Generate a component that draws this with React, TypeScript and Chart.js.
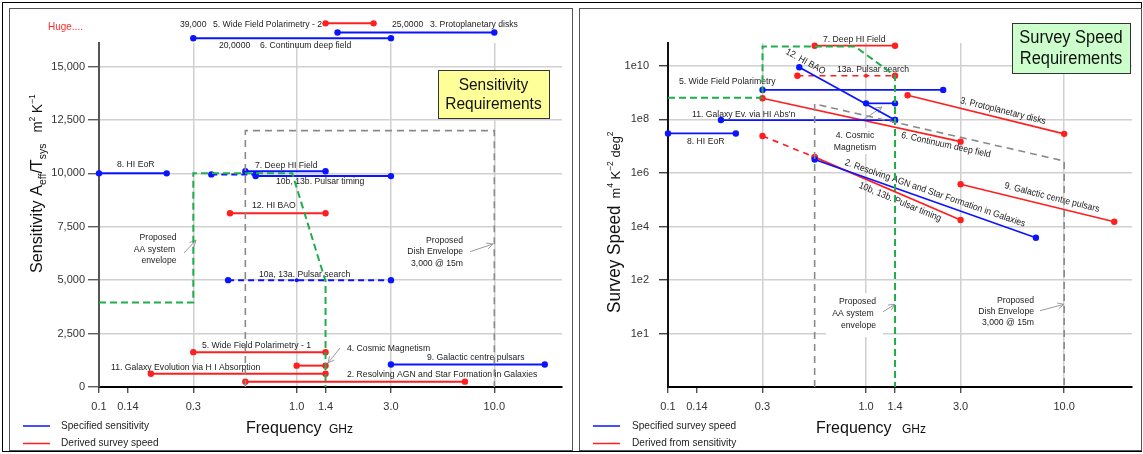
import React, { useEffect, useRef } from "react";
import { Chart, registerables } from "chart.js";

Chart.register(...registerables);

const FONT = '"Liberation Sans", Arial, Helvetica, sans-serif';
const BLUE = "#0a14ff";
const RED = "#ff1f1f";
const GREEN = "#1fae4b";
const GREY = "#8a8a8a";

// ---------- Frequency axis (GHz), shared by both panels ----------
const freqTicks = [0.1, 0.14, 0.3, 1.0, 1.4, 3.0, 10.0];
const freqTickLabels = ["0.1", "0.14", "0.3", "1.0", "1.4", "3.0", "10.0"];
const freqGridTicks = [0.3, 1.0, 3.0, 10.0];
const freqMin = 0.1;
const freqMax = 22;

// ---------- Sensitivity panel: y axis (m^2/K) ----------
const sensTicks = [0, 2500, 5000, 7500, 10000, 12500, 15000];
const sensTickLabels = ["0", "2,500", "5,000", "7,500", "10,000", "12,500", "15,000"];
const sensMin = 0;
const sensMax = 16100;

// Specified sensitivity (blue): [GHz, Aeff/Tsys]
const sensHIEoR = [[0.1, 10000], [0.22, 10000]];
const sensDeepHI = [[0.55, 10100], [1.4, 10100]];
const sensPulsarTiming = [[0.62, 9870], [3.0, 9870]];
const sensPulsarTimingLow = [[0.37, 9950], [0.62, 9950]];
const sensPulsarSearch = [[0.45, 5000], [1.0, 5000], [3.0, 5000]];
const sensGalCentre = [[3.0, 1050], [18, 1050]];
const sensContinuum = [[0.3, 16320], [3.0, 16320]];
const sensProtoplanetary = [[1.61, 16590], [10, 16590]];

// Derived survey speed (red)
const sensWFP2 = [[1.4, 17020], [2.45, 17020]];
const sensHIBAO = [[0.46, 8130], [1.4, 8130]];
const sensWFP1 = [[0.3, 1630], [1.4, 1630]];
const sensCosmicMag = [[1.0, 1000], [1.4, 1000]];
const sensGalaxyEvol = [[0.183, 620], [1.4, 620]];
const sensAGN = [[0.55, 250], [7.1, 250]];

// Envelopes
const sensAAEnvelope = [[0.1, 3960], [0.3, 3960], [0.3, 10000], [0.95, 10000], [1.4, 4950], [1.4, 0]];
const sensDishEnvelope = [[0.55, 0], [0.55, 12000], [10, 12000], [10, 0]];

// ---------- Survey speed panel: y axis (m^4 K^-2 deg^2) ----------
const speedTicks = [1, 1e2, 1e4, 1e6, 1e8, 1e10];
const speedTickLabels = ["1e1", "1e2", "1e4", "1e6", "1e8", "1e10"];
const speedMin = 0.01;
const speedMax = 7.2e10;

// Specified survey speed (blue)
const speedHIEoR = [[0.1, 3.0e7], [0.22, 3.0e7]];
const speedGalaxyEv = [[0.185, 9.5e7], [1.4, 9.5e7]];
const speedWFP = [[0.3, 1.27e9], [2.45, 1.27e9]];
const speedHIBAO = [[0.46, 8.9e9], [1.4, 9.5e7]];
const speedCosmicMag = [[1.0, 4.0e8], [1.4, 4.0e8]];
const speedAGN = [[0.55, 3.2e6], [7.2, 3.8e3]];

// Derived from sensitivity (red)
const speedDeepHI = [[0.55, 5.7e10], [1.4, 5.7e10]];
const speedPulsarSearch = [[0.45, 4.3e9], [1.0, 4.3e9], [1.4, 4.3e9]];
const speedContinuum = [[0.3, 6.2e8], [3.0, 1.48e7]];
const speedProtoplanetary = [[1.62, 8.0e8], [10, 2.9e7]];
const speedGalCentre = [[3.0, 3.8e5], [17.9, 1.5e4]];
const speedPulsarTiming = [[0.55, 3.9e6], [3.0, 1.75e4]];
const speedPulsarTimingLow = [[0.3, 2.4e7], [0.55, 3.9e6]];

// Envelopes
const speedAAEnvelope = [[0.1, 6.5e8], [0.3, 6.5e8], [0.3, 5.3e10], [0.88, 5.3e10], [1.4, 4.3e9], [1.4, 0.01]];
const speedDishEnvelope = [[0.55, 0.01], [0.55, 3.8e8], [10, 2.8e6], [10, 0.01]];

// ---------- helpers ----------
type Txt = {
  t: string; x: number; y: number; size?: number; align?: CanvasTextAlign;
  color?: string; rot?: number; hs?: number;
};
type Run = { t: string; size: number; dy?: number };

const P = (pts: number[][]) => pts.map(([x, y]) => ({ x, y }));
const END_R = 3.2;
const MID_R = 2;

function seg(pts: number[][], color: string, width: number, dash: number[] = [], markers = true) {
  const n = pts.length;
  return {
    data: P(pts),
    showLine: true,
    borderColor: color,
    backgroundColor: color,
    borderWidth: width,
    borderDash: dash,
    pointRadius: markers ? (c: any) => (c.dataIndex === 0 || c.dataIndex === n - 1 ? END_R : MID_R) : 0,
    pointHoverRadius: 0,
    pointBorderWidth: 0,
    pointBackgroundColor: color,
    pointStyle: "circle",
    clip: false,
    tension: 0,
    _markers: markers,
  };
}

function drawText(ctx: CanvasRenderingContext2D, t: Txt) {
  ctx.save();
  ctx.font = `${t.size ?? 9.5}px ${FONT}`;
  ctx.fillStyle = t.color ?? "#222";
  ctx.textBaseline = "middle";
  ctx.textAlign = t.align ?? "left";
  ctx.translate(t.x, t.y);
  if (t.rot) ctx.rotate((t.rot * Math.PI) / 180);
  ctx.scale(t.hs ?? 0.91, 1);
  ctx.fillText(t.t, 0, 0);
  ctx.restore();
}

function drawRich(ctx: CanvasRenderingContext2D, x: number, y: number, runs: Run[], hs: number) {
  ctx.save();
  ctx.translate(x, y);
  ctx.rotate(-Math.PI / 2);
  ctx.scale(hs, 1);
  ctx.textBaseline = "alphabetic";
  ctx.textAlign = "left";
  ctx.fillStyle = "#111";
  let cx = 0;
  for (const r of runs) {
    ctx.font = `${r.size}px ${FONT}`;
    ctx.fillText(r.t, cx, r.dy ?? 0);
    cx += ctx.measureText(r.t).width;
  }
  ctx.restore();
}

function drawArrow(ctx: CanvasRenderingContext2D, a: number[]) {
  const [x1, y1, x2, y2] = a;
  const ang = Math.atan2(y2 - y1, x2 - x1);
  const L = 7;
  ctx.save();
  ctx.strokeStyle = "#9a9a9a";
  ctx.lineWidth = 1;
  ctx.beginPath();
  ctx.moveTo(x1, y1);
  ctx.lineTo(x2, y2);
  ctx.moveTo(x2 - L * Math.cos(ang - 0.45), y2 - L * Math.sin(ang - 0.45));
  ctx.lineTo(x2, y2);
  ctx.lineTo(x2 - L * Math.cos(ang + 0.45), y2 - L * Math.sin(ang + 0.45));
  ctx.stroke();
  ctx.restore();
}

type Spec = {
  offsetX: number;
  bgRects: number[][];
  texts: Txt[];
  arrows: number[][];
  box: { x: number; y: number; w: number; h: number; fill: string; lines: string[]; ys: number[]; size: number; hs: number };
  legend: { x1: number; x2: number; tx: number; items: { y: number; color: string; label: string }[] };
  xTitle: { x: number; gx: number; y: number };
  yTitle: { x: number; y: number; runs: Run[]; hs: number };
};

function annotPlugin(id: string, s: Spec) {
  return {
    id,
    beforeDatasetsDraw(chart: any) {
      const ctx: CanvasRenderingContext2D = chart.ctx;
      ctx.save();
      ctx.translate(-s.offsetX, 0);
      ctx.fillStyle = "#ffffff";
      for (const r of s.bgRects) ctx.fillRect(r[0], r[1], r[2], r[3]);
      for (const t of s.texts) drawText(ctx, t);
      for (const a of s.arrows) drawArrow(ctx, a);
      const b = s.box;
      ctx.fillStyle = b.fill;
      ctx.fillRect(b.x, b.y, b.w, b.h);
      ctx.strokeStyle = "#333";
      ctx.lineWidth = 1;
      ctx.strokeRect(b.x + 0.5, b.y + 0.5, b.w, b.h);
      b.lines.forEach((ln, i) =>
        drawText(ctx, { t: ln, x: b.x + b.w / 2, y: b.ys[i], size: b.size, align: "center", color: "#111", hs: b.hs })
      );
      const lg = s.legend;
      for (const it of lg.items) {
        ctx.strokeStyle = it.color;
        ctx.lineWidth = 1.5;
        ctx.beginPath();
        ctx.moveTo(lg.x1, it.y);
        ctx.lineTo(lg.x2, it.y);
        ctx.stroke();
        drawText(ctx, { t: it.label, x: lg.tx, y: it.y, size: 10.5, color: "#222", hs: 0.96 });
      }
      ctx.fillStyle = "#111";
      ctx.textBaseline = "alphabetic";
      ctx.textAlign = "left";
      ctx.font = `16px ${FONT}`;
      ctx.fillText("Frequency", s.xTitle.x, s.xTitle.y);
      ctx.font = `12px ${FONT}`;
      ctx.fillText("GHz", s.xTitle.gx, s.xTitle.y);
      drawRich(ctx, s.yTitle.x, s.yTitle.y, s.yTitle.runs, s.yTitle.hs);
      ctx.restore();
    },
    // Chart.js skips point markers lying outside the chart area; draw those (off-scale values) here.
    afterDatasetsDraw(chart: any) {
      const ctx: CanvasRenderingContext2D = chart.ctx;
      const a = chart.chartArea;
      chart.data.datasets.forEach((ds: any, i: number) => {
        if (!ds._markers) return;
        const meta = chart.getDatasetMeta(i);
        const n = meta.data.length;
        meta.data.forEach((pt: any, j: number) => {
          const out = pt.x < a.left - 0.5 || pt.x > a.right + 0.5 || pt.y < a.top - 0.5 || pt.y > a.bottom + 0.5;
          if (!out) return;
          ctx.save();
          ctx.fillStyle = ds.pointBackgroundColor;
          ctx.beginPath();
          ctx.arc(pt.x, pt.y, j === 0 || j === n - 1 ? END_R : MID_R, 0, Math.PI * 2);
          ctx.fill();
          ctx.restore();
        });
      });
    },
  };
}

function xScale() {
  return {
    type: "logarithmic",
    min: freqMin,
    max: freqMax,
    bounds: "data",
    afterBuildTicks: (sc: any) => {
      sc.ticks = freqTicks.map((v) => ({ value: v }));
    },
    afterFit: (sc: any) => {
      sc.height = 30;
    },
    ticks: {
      autoSkip: false,
      maxRotation: 0,
      minRotation: 0,
      padding: 7,
      color: "#333",
      font: { family: FONT, size: 11 },
      callback: (v: any) => freqTickLabels[freqTicks.indexOf(Number(v))] ?? "",
    },
    grid: {
      color: (c: any) => (c.tick && freqGridTicks.includes(c.tick.value) ? "#d0d0d0" : "rgba(0,0,0,0)"),
      lineWidth: 1.5,
      tickColor: "#333",
      tickLength: 6,
      tickWidth: 1.2,
    },
    border: { display: true, color: "#000", width: 2 },
  };
}

// ---------- annotation layouts (page pixel positions) ----------
const sensSpec: Spec = {
  offsetX: 0,
  bgRects: [],
  texts: [
    { t: "Huge....", x: 48, y: 27, size: 10.5, color: "#ff2a2a", hs: 0.95 },
    { t: "39,000", x: 180, y: 24 },
    { t: "5. Wide Field Polarimetry - 2", x: 213, y: 24 },
    { t: "25,0000", x: 392, y: 24.5 },
    { t: "3. Protoplanetary disks", x: 430, y: 24.5 },
    { t: "20,0000", x: 219, y: 45.5 },
    { t: "6. Continuum deep field", x: 260, y: 45.5 },
    { t: "8. HI EoR", x: 117, y: 164.5 },
    { t: "7. Deep HI Field", x: 255, y: 165 },
    { t: "10b, 13b. Pulsar timing", x: 276, y: 181.5 },
    { t: "12. HI BAO", x: 252, y: 205.5 },
    { t: "10a, 13a. Pulsar search", x: 259, y: 274.5 },
    { t: "Proposed", x: 158, y: 237.7, align: "center" },
    { t: "AA system", x: 154.5, y: 249, align: "center" },
    { t: "envelope", x: 159, y: 260.5, align: "center" },
    { t: "Proposed", x: 463, y: 240, align: "right" },
    { t: "Dish Envelope", x: 463, y: 251.5, align: "right" },
    { t: "3,000 @ 15m", x: 463, y: 263, align: "right" },
    { t: "5. Wide Field Polarimetry - 1", x: 202, y: 345 },
    { t: "4. Cosmic Magnetism", x: 347, y: 348 },
    { t: "9. Galactic centre pulsars", x: 427, y: 357.7 },
    { t: "11. Galaxy Evolution via H I Absorption", x: 111, y: 367.7 },
    { t: "2. Resolving AGN and Star Formation in Galaxies", x: 347, y: 374.5 },
  ],
  arrows: [
    [184, 253, 196, 240],
    [470, 251.7, 493, 244],
    [340, 348, 328, 363],
  ],
  box: { x: 438, y: 70, w: 111, h: 48, fill: "#ffff99", lines: ["Sensitivity", "Requirements"], ys: [85, 104], size: 17, hs: 0.91 },
  legend: {
    x1: 23, x2: 50, tx: 61,
    items: [
      { y: 426, color: BLUE, label: "Specified sensitivity" },
      { y: 443.5, color: RED, label: "Derived survey speed" },
    ],
  },
  xTitle: { x: 246, gx: 329, y: 433 },
  yTitle: {
    x: 42, y: 273, hs: 0.95,
    runs: [
      { t: "Sensitivity A", size: 17 },
      { t: "eff", size: 11, dy: 4 },
      { t: "/T", size: 17 },
      { t: "sys", size: 11, dy: 4 },
      { t: "   m", size: 14 },
      { t: "2", size: 9, dy: -7 },
      { t: " K", size: 14 },
      { t: "\u22121", size: 9, dy: -7 },
    ],
  },
};

const speedSpec: Spec = {
  offsetX: 576,
  bgRects: [
    [826, 293, 57, 44],
    [975, 292, 62, 38],
    [832, 128, 47, 26],
  ],
  texts: [
    { t: "7. Deep HI Field", x: 823, y: 39 },
    { t: "13a. Pulsar search", x: 837, y: 69 },
    { t: "12. HI BAO", x: 805.5, y: 61.7, align: "center", rot: 29 },
    { t: "5. Wide Field Polarimetry", x: 679, y: 81.7 },
    { t: "11. Galaxy Ev. via HI Abs'n", x: 692, y: 114 },
    { t: "8. HI EoR", x: 687, y: 141 },
    { t: "4. Cosmic", x: 855, y: 135, align: "center" },
    { t: "Magnetism", x: 855, y: 147, align: "center" },
    { t: "3. Protoplanetary disks", x: 1003, y: 111, align: "center", rot: 14 },
    { t: "6. Continuum deep field", x: 946, y: 145, align: "center", rot: 12.4 },
    { t: "9. Galactic centre pulsars", x: 1052, y: 197.5, align: "center", rot: 14.2 },
    { t: "2. Resolving AGN and Star Formation in Galaxies", x: 935, y: 193.3, align: "center", rot: 19 },
    { t: "10b, 13b. Pulsar timing", x: 900, y: 202, align: "center", rot: 22.5 },
    { t: "Proposed", x: 857.5, y: 301.7, align: "center" },
    { t: "AA system", x: 853, y: 313, align: "center" },
    { t: "envelope", x: 858.5, y: 325, align: "center" },
    { t: "Proposed", x: 1034, y: 300, align: "right" },
    { t: "Dish Envelope", x: 1034, y: 311, align: "right" },
    { t: "3,000 @ 15m", x: 1034, y: 322.7, align: "right" },
  ],
  arrows: [
    [863, 120, 882, 107],
    [883, 311.7, 895, 304.3],
    [1040, 310.7, 1064, 304.3],
  ],
  box: { x: 1012, y: 23, w: 118, h: 50, fill: "#ccffcc", lines: ["Survey Speed", "Requirements"], ys: [38, 59.5], size: 17.5, hs: 0.94 },
  legend: {
    x1: 593, x2: 620, tx: 632,
    items: [
      { y: 426, color: BLUE, label: "Specified survey speed" },
      { y: 443.5, color: RED, label: "Derived from sensitivity" },
    ],
  },
  xTitle: { x: 816, gx: 902, y: 433 },
  yTitle: {
    x: 620, y: 313, hs: 0.95,
    runs: [
      { t: "Survey Speed", size: 18 },
      { t: "  m", size: 13.5 },
      { t: "4", size: 9, dy: -7 },
      { t: " K", size: 13.5 },
      { t: "\u22122", size: 9, dy: -7 },
      { t: " deg", size: 13.5 },
      { t: "2", size: 9, dy: -7 },
    ],
  },
};

function sensConfig(): any {
  const datasets = [
    seg(sensDishEnvelope, GREY, 1.6, [7, 5], false),
    seg(sensAAEnvelope, GREEN, 2, [7, 4], false),
    ...[sensHIEoR, sensDeepHI, sensPulsarTiming, sensGalCentre, sensContinuum, sensProtoplanetary].map((d) => seg(d, BLUE, 2)),
    ...[sensPulsarTimingLow, sensPulsarSearch].map((d) => seg(d, BLUE, 2, [6, 4])),
    ...[sensWFP2, sensHIBAO, sensWFP1, sensCosmicMag, sensGalaxyEvol, sensAGN].map((d) => seg(d, RED, 2)),
  ];
  return {
    type: "scatter",
    data: { datasets },
    options: {
      animation: false,
      responsive: false,
      devicePixelRatio: 1,
      events: [],
      layout: { padding: { left: 0, top: 43, right: 14, bottom: 37 } },
      plugins: { legend: { display: false }, tooltip: { enabled: false } },
      scales: {
        x: xScale(),
        y: {
          type: "linear",
          min: sensMin,
          max: sensMax,
          bounds: "data",
          afterBuildTicks: (sc: any) => {
            sc.ticks = sensTicks.map((v) => ({ value: v }));
          },
          afterFit: (sc: any) => {
            sc.width = 99;
          },
          ticks: {
            padding: 3,
            color: "#333",
            font: { family: FONT, size: 11 },
            callback: (v: any) => sensTickLabels[sensTicks.indexOf(Number(v))] ?? "",
          },
          grid: {
            color: (c: any) => (c.tick && c.tick.value === 0 ? "rgba(0,0,0,0)" : "#d0d0d0"),
            lineWidth: 1.5,
            tickColor: "#444",
            tickLength: 11,
            tickWidth: 1.2,
          },
          border: { display: true, color: "#555", width: 2 },
        },
      },
    },
    plugins: [annotPlugin("sensAnnot", sensSpec)],
  };
}

function speedConfig(): any {
  const datasets = [
    seg(speedDishEnvelope, GREY, 1.6, [7, 5], false),
    seg(speedAAEnvelope, GREEN, 2, [7, 4], false),
    ...[speedHIEoR, speedGalaxyEv, speedWFP, speedHIBAO, speedCosmicMag, speedAGN].map((d) => seg(d, BLUE, 1.7)),
    ...[speedDeepHI, speedContinuum, speedProtoplanetary, speedGalCentre, speedPulsarTiming].map((d) => seg(d, RED, 1.7)),
    ...[speedPulsarSearch, speedPulsarTimingLow].map((d) => seg(d, RED, 1.7, [6, 5])),
  ];
  return {
    type: "scatter",
    data: { datasets },
    options: {
      animation: false,
      responsive: false,
      devicePixelRatio: 1,
      events: [],
      layout: { padding: { left: 0, top: 43, right: 11, bottom: 37 } },
      plugins: { legend: { display: false }, tooltip: { enabled: false } },
      scales: {
        x: xScale(),
        y: {
          type: "logarithmic",
          min: speedMin,
          max: speedMax,
          bounds: "data",
          afterBuildTicks: (sc: any) => {
            sc.ticks = speedTicks.map((v) => ({ value: v }));
          },
          afterFit: (sc: any) => {
            sc.width = 92;
          },
          ticks: {
            padding: 10,
            color: "#333",
            font: { family: FONT, size: 11 },
            callback: (v: any) => speedTickLabels[speedTicks.indexOf(Number(v))] ?? "",
          },
          grid: {
            color: "#d0d0d0",
            lineWidth: 1.5,
            tickColor: "#222",
            tickLength: 9,
            tickWidth: 1.2,
          },
          border: { display: true, color: "#111", width: 2 },
        },
      },
    },
    plugins: [annotPlugin("speedAnnot", speedSpec)],
  };
}

export default function App() {
  const leftRef = useRef<HTMLCanvasElement>(null);
  const rightRef = useRef<HTMLCanvasElement>(null);

  useEffect(() => {
    const c1 = new Chart(leftRef.current as HTMLCanvasElement, sensConfig());
    const c2 = new Chart(rightRef.current as HTMLCanvasElement, speedConfig());
    return () => {
      c1.destroy();
      c2.destroy();
    };
  }, []);

  const abs = (l: number, t: number, w: number, h: number, extra: any = {}) => ({
    position: "absolute" as const, left: l, top: t, width: w, height: h, boxSizing: "border-box" as const, ...extra,
  });

  return (
    <div style={abs(0, 0, 1143, 454, { background: "#fff", overflow: "hidden" })}>
      <div style={abs(2, 2, 1140, 450, { border: "1px solid #000" })} />
      <div style={abs(9, 8, 564, 443, { border: "1.5px solid #555" })} />
      <div style={abs(579, 8, 563, 443, { border: "1.5px solid #555" })} />
      <canvas ref={leftRef} width={576} height={454} style={abs(0, 0, 576, 454)} />
      <canvas ref={rightRef} width={567} height={454} style={abs(576, 0, 567, 454)} />
    </div>
  );
}
